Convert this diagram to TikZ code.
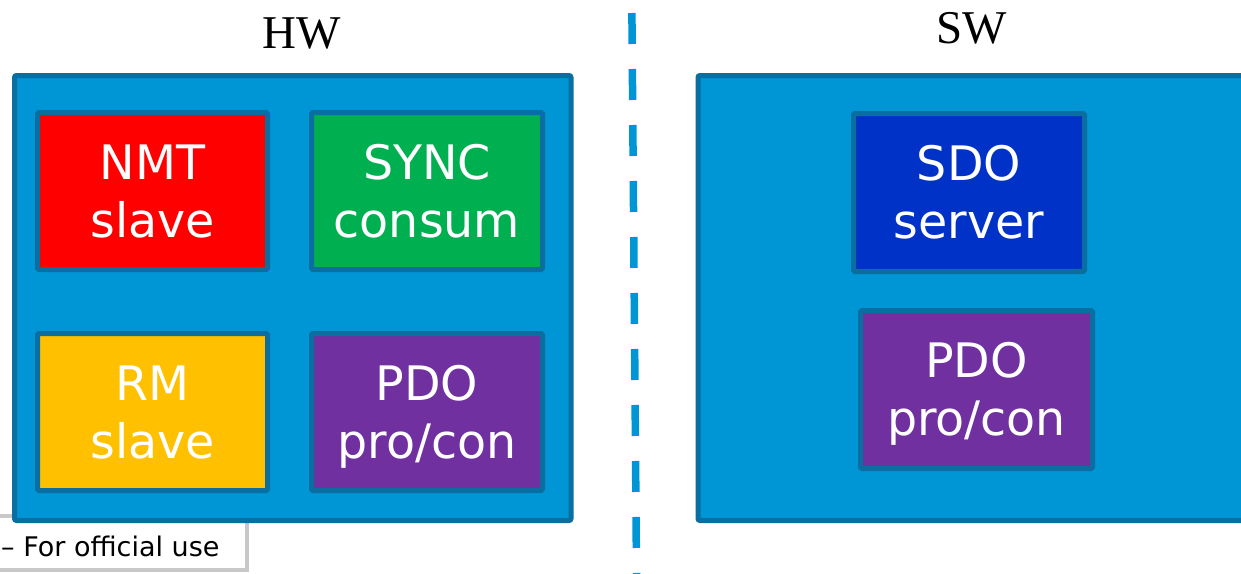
\documentclass[tikz,border=0pt]{standalone}
\usepackage{fontspec}
\setmainfont{Liberation Serif}
\newfontfamily\cellfont{DejaVu Sans}

\definecolor{panel}{RGB}{0,150,214}
\definecolor{rim}{RGB}{10,110,160}
\definecolor{nmtred}{RGB}{255,0,0}
\definecolor{syncgreen}{RGB}{0,176,80}
\definecolor{rmamber}{RGB}{255,192,0}
\definecolor{pdopurple}{RGB}{112,48,160}
\definecolor{sdoblue}{RGB}{0,50,200}
\definecolor{footgrey}{RGB}{200,200,200}

% one text line of a unit box: cap height, no depth, so both lines sit evenly
\newcommand{\capline}[1]{\raisebox{0pt}[34pt][0pt]{#1}}

\begin{document}
\begin{tikzpicture}[x=1pt,y=-1pt,
  panelbox/.style={draw=rim, fill=panel, line width=5pt, rounded corners=2pt,
                   inner sep=0pt},
  unit/.style={draw=rim, line width=5pt, rounded corners=1.5pt, text=white,
               align=center, inner sep=0pt,
               font=\cellfont\fontsize{47.5}{58}\selectfont},
  title/.style={anchor=base, inner sep=0pt, font=\fontsize{47}{56}\selectfont},
  divider/.style={draw=panel, line width=7.5pt, dash pattern=on 31pt off 25pt}]

\useasboundingbox (0,0) rectangle (1241,573);

% footer tag, partly under the HW panel
\node[draw=footgrey, fill=white, line width=4pt, inner sep=0pt,
      minimum width=257pt, minimum height=54pt] (foot) at (118.5,543) {};
\node[anchor=base west, inner sep=0pt,
      font=\cellfont\fontsize{27}{32}\selectfont] (footlabel) at (1,556)
      {– For official use};

% titles
\node[title] (hwtitle) at (301.5,48) {HW};
\node[title] (swtitle) at (972,43) {SW};

% panels
\node[panelbox, minimum width=556.5pt, minimum height=445pt] (hw) at (292.75,298) {};
\node[panelbox, minimum width=572pt, minimum height=445pt] (sw) at (984,298) {};

% hardware units
\node[unit, fill=nmtred, minimum width=230pt, minimum height=157pt]
  (nmt) at (152.5,191) {\capline{NMT}\\\capline{slave}};
\node[unit, fill=syncgreen, minimum width=231pt, minimum height=157pt]
  (sync) at (427,191) {\capline{SYNC}\\\capline{consum}};
\node[unit, fill=rmamber, minimum width=230pt, minimum height=157pt]
  (rm) at (152.5,412) {\capline{RM}\\\capline{slave}};
\node[unit, fill=pdopurple, minimum width=231pt, minimum height=157pt]
  (pdohw) at (427,412) {\capline{PDO}\\\capline{pro/con}};

% software units
\node[unit, fill=sdoblue, minimum width=231pt, minimum height=158pt]
  (sdo) at (969,192.5) {\capline{SDO}\\\capline{server}};
\node[unit, fill=pdopurple, minimum width=232pt, minimum height=158pt]
  (pdosw) at (976.5,389.5) {\capline{PDO}\\\capline{pro/con}};

% dashed HW/SW divider
\coordinate (dtop) at (631.9,13);
\coordinate (dbot) at (636.8,610);
\draw[divider] (dtop) -- (dbot);

\end{tikzpicture}
\end{document}
